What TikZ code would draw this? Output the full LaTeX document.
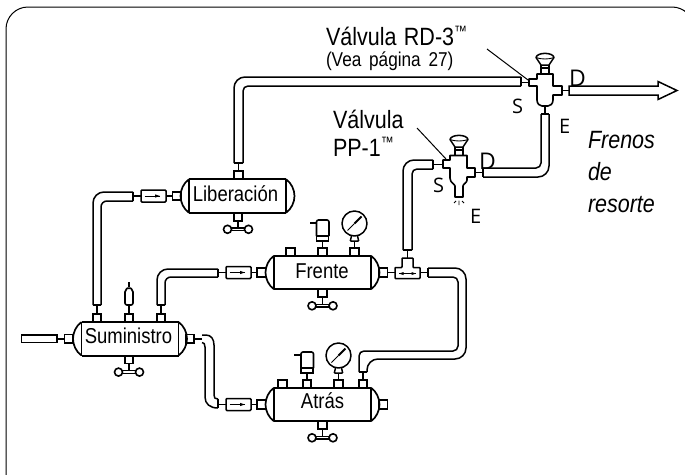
\documentclass[tikz,border=0pt]{standalone}
\usepackage{fontspec}
\setmainfont{Liberation Sans}
\newfontfamily\cond[FakeStretch=0.86]{Liberation Sans}
\newfontfamily\lab{Open Sans}
\tikzset{
  ln/.style={line width=1.5pt,line join=round},
  thin line/.style={line width=1pt},
  txt/.style={anchor=base west,inner sep=0pt,outer sep=0pt},
  bigtxt/.style={txt,font=\cond\fontsize{25}{25}\selectfont},
  tanktxt/.style={anchor=base,inner sep=0pt,font=\cond\fontsize{21.5}{21.5}\selectfont},
  valvetxt/.style={txt,font=\lab\fontsize{20}{20}\selectfont},
  dtxt/.style={txt,font=\lab\fontsize{23}{23}\selectfont},
  % tank centred on the origin, with end caps
  tank/.pic={
    \draw[line width=2pt] (-48.5,-16.75) -- (48.5,-16.75) (-48.5,16.75) -- (48.5,16.75);
    \draw[ln] (-48.5,-16.75) -- (-48.5,16.75) (48.5,-16.75) -- (48.5,16.75);
    \draw[line width=1.7pt] (-48.5,-16.75) .. controls (-54,-13) and (-57,-6) .. (-57,0) .. controls (-57,6) and (-54,13) .. (-48.5,16.75);
    \draw[line width=1.7pt] (48.5,-16.75) .. controls (54,-13) and (57,-6) .. (57,0) .. controls (57,6) and (54,13) .. (48.5,16.75);
  },
  % square port on the left / right side; origin at its tank-side middle
  sideport/.pic={
    \draw[line width=1.8pt] (0,-4.2) rectangle (8.5,4.2);
  },
  % port on top of a tank; origin at bottom middle
  topport/.pic={
    \draw[line width=1.8pt] (-4.2,0) rectangle (4.2,-8);
  },
  % drain with T handle; origin at bottom of tank
  drain/.pic={
    \draw[line width=1.8pt] (-4.2,0) rectangle (4.2,8);
    \draw[ln] (0,8) -- (0,16);
    \draw[ln,fill=white] (-7,15.2) rectangle (7,18);
    \draw[line width=1.6pt,fill=white] (-10.5,16.6) circle (4);
    \draw[line width=1.6pt,fill=white] (10.5,16.6) circle (4);
  },
  % solenoid above a port; origin at port top
  solenoid/.pic={
    \draw[ln] (0,0) -- (0,-7);
    \draw[line width=1.2pt] (-6,-7) rectangle (6,-12);
    \draw[line width=1.6pt,rounded corners=2pt] (-6,-12) -- (-6,-28) -- (6.5,-28) -- (6.5,-12);
    \draw[ln] (-6,-25) -- (-13,-25);
  },
  % gauge above a port; origin at port top
  gauge/.pic={
    \draw[ln] (0,0) -- (0,-7);
    \draw[ln] (-4.2,-7) -- (-3,-12) (4.2,-7) -- (3,-12) (-4.2,-7) -- (4.2,-7);
    \draw[ln] (0,-24.5) circle (12.5);
    \draw[line width=1pt] (-7,-17.5) -- (0,-24.5);
    \draw[line width=1.9pt] (0,-24.5) -- (7,-31.5);
  },
  % in-line check valve; origin at centre
  checkvalve/.pic={
    \draw[ln] (-20.5,0) -- (-12.5,0) (12.5,0) -- (19.5,0);
    \draw[line width=1.5pt,rounded corners=1pt] (-12.5,-6) rectangle (12.5,6);
    \draw[line width=1pt] (-9,0) -- (6,0);
    \fill (1.5,-1.6) -- (6.5,0) -- (1.5,1.6) -- cycle;
  },
  % knob on top of a valve; origin at centre of knob top
  knob/.pic={
    \draw[ln] (-9,4.5) .. controls (-8,-1) and (8,-1) .. (9,4.5) -- (4,12) -- (-4,12) -- cycle;
    \draw[line width=.9pt] (-9,4.5) .. controls (-4,6.5) and (4,6.5) .. (9,4.5);
    \draw[ln] (-4,12) -- (-4,21) (4,12) -- (4,21);
    \draw[ln] (-4,15) -- (4,15);
  }
}
\begin{document}
\begin{tikzpicture}[x=1pt,y=-1pt]
\useasboundingbox (0,0) rectangle (685,474);
\clip (0,0) rectangle (685,474);

% frame
\draw[line width=1pt,rounded corners=22pt] (6,490) -- (6,7) -- (694,7) -- (694,40);

% tanks
\pic at (130,338.75) {tank};
\pic at (322.5,272.5) {tank};
\pic at (322.5,404.5) {tank};
\pic at (237.5,196) {tank};
\node[tanktxt] (sum) at (128.5,343) {Suministro};
\node[tanktxt] (fre) at (322,278) {Frente};
\node[tanktxt] (atr) at (322.5,408) {Atrás};
\node[tanktxt] (lib) at (235.5,201) {Liberación};

% side ports
\pic at (64.5,338.75) {sideport};
\pic at (185.5,338.75) {sideport};
\pic at (257,272.5) {sideport};
\pic at (379,272.5) {sideport};
\pic at (257,404.5) {sideport};
\pic at (379,404.5) {sideport};
\pic at (172.5,196) {sideport};

% top ports
\foreach \x in {97,129,161} \pic at (\x,322) {topport};
\foreach \x in {290.5,322.5,354.5} \pic at (\x,256) {topport};
\foreach \x in {282.5,307,338.5,363} \pic at (\x,388) {topport};
\pic at (238.5,179) {topport};

% drains
\pic at (129,355.5) {drain};
\pic at (322.5,289.2) {drain};
\pic at (322.5,421.2) {drain};
\pic at (238,212.7) {drain};

% solenoids and gauges
\pic at (322.5,248) {solenoid};
\pic at (354.5,248) {gauge};
\pic at (307,380) {solenoid};
\pic at (338.5,380) {gauge};

% Suministro items
\draw[line width=1.7pt] (21.5,335) rectangle (57,342.5);
\coordinate (sumL) at (64.5,338.75);
\coordinate (inL) at (57,338.75);
\draw[ln] (inL) -- (sumL);
\draw[ln] (97,305) -- (97,314) (161,305) -- (161,314) (129,305) -- (129,314);
\draw[line width=1.6pt,rounded corners=2pt] (125,305) -- (125,290) -- (129,287) -- (133,290) -- (133,305) -- cycle;
\draw[ln] (129,287) -- (129,282);

% check valves
\pic at (238.5,272.5) {checkvalve};
\pic at (238.5,404.5) {checkvalve};
\pic at (153.5,196) {checkvalve};

% tube Suministro - Liberacion
\draw[ln,rounded corners=11pt] (93,305) -- (93,192) -- (133,192);
\draw[ln,rounded corners=6pt] (101,305) -- (101,201) -- (133,201);
\draw[ln] (93,305) -- (101,305) (133,192) -- (133,201);

% tube Suministro - Frente
\draw[ln,rounded corners=11pt] (157,305) -- (157,269) -- (218,269);
\draw[ln,rounded corners=6pt] (165,305) -- (165,277) -- (218,277);
\draw[ln] (157,305) -- (165,305) (218,269) -- (218,277);

% tube Suministro - Atras
\draw[ln] (194,338.75) -- (202,338.75);
\draw[ln] (202,335) -- (206,335) .. controls (211,335) and (214,339) .. (214,345) -- (214,395) .. controls (214,398) and (215,399) .. (218,399);
\draw[ln] (202,342.5) .. controls (204,342.5) and (205,344) .. (205,347) -- (205,397) .. controls (205,404) and (210,408) .. (218,408);
\draw[ln] (218,399) -- (218,408);

% Frente right stem and T fitting
\coordinate (tL) at (395,272.5);
\coordinate (fR) at (387.5,272.5);
\draw[ln] (fR) -- (tL);
\draw[line width=1.5pt,rounded corners=.8pt] (395,267.5) -- (402,267.5) -- (402,258) -- (413,258) -- (413,267.5) -- (420,267.5) -- (420,278.5) -- (395,278.5) -- cycle;
\draw[line width=1pt] (399,273.5) -- (416,273.5);
\fill (399,273.5) -- (403.5,272) -- (403.5,275) -- cycle;
\fill (416,273.5) -- (411.5,272) -- (411.5,275) -- cycle;
\draw[ln] (420,272.5) -- (428,272.5);
\draw[ln] (407.5,258) -- (407.5,250);

% tube T - Atras
\draw[ln,rounded corners=11pt] (428,268) -- (466,268) -- (466,359) -- (367,359) -- (367,372);
\draw[ln,rounded corners=5pt] (428,277) -- (458,277) -- (458,351) -- (359,351) -- (359,372);
\draw[ln] (428,268) -- (428,277) (359,372) -- (367,372);
\draw[ln] (363,372) -- (363,380);

% tube T - PP-1
\draw[ln,rounded corners=11pt] (403,250) -- (403,160) -- (433,160);
\draw[ln,rounded corners=5pt] (412,250) -- (412,169) -- (433,169);
\draw[ln] (403,250) -- (412,250) (433,160) -- (433,169);
\draw[ln] (433,164.5) -- (443,164.5);

% valve PP-1
\pic at (459,135) {knob};
\draw[line width=1.6pt,line join=round] (443,160) -- (450,160) -- (450,155.5) -- (467,155.5) -- (467,168) -- (475,168) -- (475,177) -- (467,177) -- (467,180) .. controls (467,183) and (463,184) .. (463,186) -- (463,197) -- (455,197) -- (455,186) .. controls (455,184) and (450,183) .. (450,178) -- (450,168) -- (443,168) -- cycle;
\draw[line width=.9pt] (454,203) -- (456,201) (459,200.5) -- (459,205) (462,201) -- (464,203);
\draw[ln] (475,172.5) -- (483,172.5);

% tube PP-1 - RD-3
\draw[ln,rounded corners=5pt] (483,168) -- (541,168) -- (541,114);
\draw[ln,rounded corners=11pt] (483,177) -- (549,177) -- (549,114);
\draw[ln] (483,168) -- (483,177) (541,114) -- (549,114);
\draw[ln] (545,106) -- (545,114);

% tube Liberacion - RD-3
\draw[ln] (238.5,171) -- (238.5,163);
\draw[ln,rounded corners=11pt] (234,163) -- (234,77) -- (521,77);
\draw[ln,rounded corners=5pt] (243,163) -- (243,86) -- (521,86);
\draw[ln] (234,163) -- (243,163) (521,77) -- (521,86);
\draw[ln] (521,82.5) -- (529,82.5);

% valve RD-3
\pic at (545,53) {knob};
\draw[line width=1.6pt,line join=round] (529,79) -- (537,79) -- (537,74) -- (553,74) -- (553,86) -- (562,86) -- (562,95) -- (553,95) -- (553,100) .. controls (553,104) and (550,106) .. (548,106) -- (542,106) .. controls (540,106) and (537,104) .. (537,100) -- (537,86) -- (529,86) -- cycle;
\draw[ln] (562,90.5) -- (569,90.5);

% outlet arrow
\draw[line width=1.5pt,line join=miter] (569,86) -- (658,86) -- (658,81.5) -- (677,90.5) -- (658,99.5) -- (658,95) -- (569,95) -- cycle;

% leaders
\coordinate (ldA) at (487,49);
\coordinate (ldB) at (528,80);
\coordinate (ldC) at (417,128);
\coordinate (ldD) at (446,159);
\draw[thin line] (ldA) -- (ldB);
\draw[thin line] (ldC) -- (ldD);

% texts
\node[bigtxt] (t1) at (326,45) {Válvula\hspace{1.5pt} RD-3\raisebox{9pt}{\fontsize{15}{15}\selectfont ™}};
\node[txt,font=\cond\fontsize{20}{20}\selectfont] (t2) at (326,66) {(Vea\hspace{3pt} página\hspace{3pt} 27)};
\node[bigtxt] (t3) at (333,128) {Válvula};
\node[bigtxt] (t4) at (333,156) {PP-1\raisebox{9pt}{\fontsize{15}{15}\selectfont ™}};
\node[txt,font=\cond\itshape\fontsize{25}{25}\selectfont] (f1) at (588,148) {Frenos};
\node[txt,font=\cond\itshape\fontsize{25}{25}\selectfont] (f2) at (588,180) {de};
\node[txt,font=\cond\itshape\fontsize{25}{25}\selectfont] (f3) at (588,212) {resorte};
\node[valvetxt] (s1) at (512,113) {S};
\node[dtxt] (d1) at (569,86) {D};
\node[valvetxt] (e1) at (559,133) {E};
\node[valvetxt] (s2) at (433,192) {S};
\node[dtxt] (d2) at (479,169) {D};
\node[valvetxt] (e2) at (470,223) {E};
\end{tikzpicture}
\end{document}
